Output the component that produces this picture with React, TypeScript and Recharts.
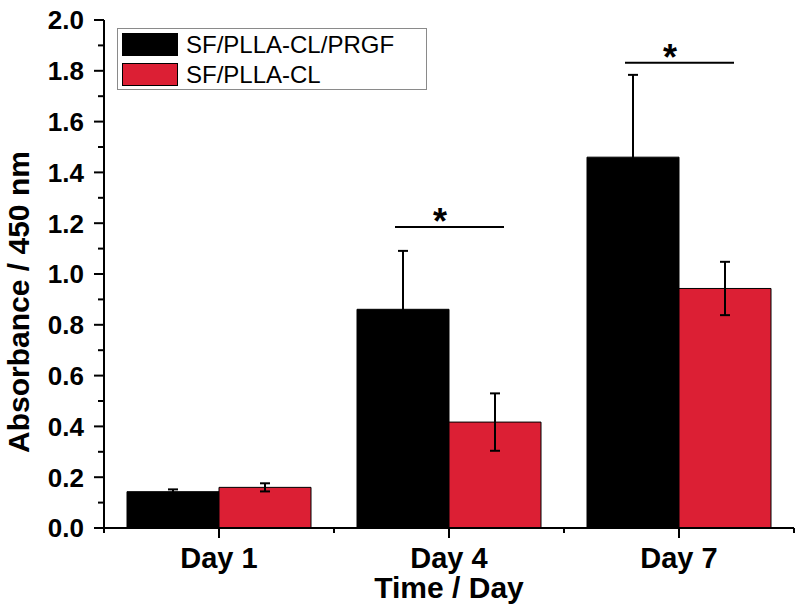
import React from 'react';
import { ComposedChart, Bar, ErrorBar, Scatter, XAxis, YAxis, Legend, Label } from 'recharts';

// values
const days = ['Day 1', 'Day 4', 'Day 7'];
const prgfMean = [0.143, 0.861, 1.46];
const prgfErr = [0.009, 0.23, 0.324];
const clMean = [0.16, 0.417, 0.943];
const clErr = [0.016, 0.113, 0.105];
// height of the significance bracket (null = no bracket)
const sigLevel = [null, 1.185, 1.832];

const yTicks = [0, 0.1, 0.2, 0.3, 0.4, 0.5, 0.6, 0.7, 0.8, 0.9, 1.0, 1.1, 1.2, 1.3, 1.4, 1.5, 1.6, 1.7, 1.8, 1.9, 2.0];

const seriesNames = ['SF/PLLA-CL/PRGF', 'SF/PLLA-CL'];
const RED = '#dc1f34';
const FONT = '"Liberation Sans", Arial, sans-serif';

const data = days.map((d, i) => ({
  day: d,
  prgf: prgfMean[i],
  prgfErr: prgfErr[i],
  cl: clMean[i],
  clErr: clErr[i],
  sig: sigLevel[i],
}));

const YTick = (props: any) => {
  const { x, y, payload } = props;
  const v = payload.value;
  const major = Math.round(v * 10) % 2 === 0;
  const axisX = x + 20;
  return (
    <g>
      <line x1={axisX} x2={axisX - (major ? 10 : 6)} y1={y} y2={y} stroke="#000" strokeWidth={2} />
      {major && (
        <text x={x} y={y} dy="0.36em" textAnchor="end" fontFamily={FONT} fontWeight="bold" fontSize={26} fill="#000">
          {v.toFixed(1)}
        </text>
      )}
    </g>
  );
};

const XTick = (props: any) => {
  const { x, y, payload } = props;
  const axisY = y - 16;
  const half = payload.offset || 0;
  return (
    <g>
      <line x1={x} x2={x} y1={axisY} y2={axisY + 10} stroke="#000" strokeWidth={2} />
      {half > 0 && (
        <>
          <line x1={x - half} x2={x - half} y1={axisY} y2={axisY + 5} stroke="#000" strokeWidth={2} />
          <line x1={x + half} x2={x + half} y1={axisY} y2={axisY + 5} stroke="#000" strokeWidth={2} />
        </>
      )}
      <text x={x} y={y + 24} textAnchor="middle" fontFamily={FONT} fontWeight="bold" fontSize={29} fill="#000">
        {payload.value}
      </text>
    </g>
  );
};

const SigMark = (props: any) => {
  const { cx, cy, payload } = props;
  if (payload == null || payload.sig == null) return <g />;
  return (
    <g>
      <line x1={cx - 54} x2={cx + 55} y1={cy} y2={cy} stroke="#000" strokeWidth={2} />
      <text x={cx - 9} y={cy + 7} textAnchor="middle" fontFamily={FONT} fontWeight="bold" fontSize={36} fill="#000">
        *
      </text>
    </g>
  );
};

const LegendBox = () => (
  <div
    style={{
      width: 308,
      height: 60,
      border: '1px solid #8a8a8a',
      background: '#fff',
      position: 'relative',
      fontFamily: FONT,
      fontSize: 24,
      color: '#000',
    }}
  >
    {seriesNames.map((name, i) => (
      <div key={name} style={{ position: 'absolute', left: 4, top: 4 + i * 30, height: 23, display: 'flex', alignItems: 'center' }}>
        <div
          style={{
            width: 54,
            height: 21,
            background: i === 0 ? '#000' : RED,
            border: '1px solid #000',
            marginRight: 8,
          }}
        />
        <span style={{ lineHeight: '23px', whiteSpace: 'nowrap' }}>{name}</span>
      </div>
    ))}
  </div>
);

const YTitle = (props: any) => {
  const { viewBox } = props;
  const cy = viewBox.y + viewBox.height / 2 + 28;
  return (
    <text
      transform={`translate(29, ${cy}) rotate(-90)`}
      textAnchor="middle"
      fontFamily={FONT}
      fontWeight="bold"
      fontSize={30}
      fill="#000"
    >
      Absorbance / 450 nm
    </text>
  );
};

const XTitle = (props: any) => {
  const { viewBox } = props;
  const cx = viewBox.x + viewBox.width / 2;
  return (
    <text x={cx} y={598} textAnchor="middle" fontFamily={FONT} fontWeight="bold" fontSize={30} fill="#000">
      Time / Day
    </text>
  );
};

export default function App() {
  return (
    <div style={{ position: 'absolute', left: 0, top: 0, width: 800, height: 616, background: '#fff' }}>
      <ComposedChart
        width={800}
        height={616}
        data={data}
        margin={{ top: 20, right: 6, bottom: 0, left: 0 }}
        barCategoryGap="10%"
        barGap={0}
      >
        <XAxis
          dataKey="day"
          height={88}
          axisLine={{ stroke: '#000', strokeWidth: 2 }}
          tickLine={false}
          tickSize={10}
          tickMargin={6}
          tick={<XTick />}
          interval={0}
        >
          <Label content={<XTitle />} />
        </XAxis>
        <YAxis
          width={104}
          domain={[0, 2]}
          ticks={yTicks}
          interval={0}
          allowDataOverflow
          axisLine={{ stroke: '#000', strokeWidth: 2 }}
          tickLine={false}
          tickSize={10}
          tickMargin={10}
          tick={<YTick />}
        >
          <Label content={<YTitle />} />
        </YAxis>
        <Legend
          layout="vertical"
          align="center"
          verticalAlign="middle"
          content={<LegendBox />}
          wrapperStyle={{ position: 'absolute', left: 117, top: 28, width: 310, height: 62 }}
        />
        <Bar dataKey="prgf" fill="#000" stroke="#000" strokeWidth={1} isAnimationActive={false}>
          <ErrorBar dataKey="prgfErr" direction="y" width={5} stroke="#000" strokeWidth={2} isAnimationActive={false} />
        </Bar>
        <Bar dataKey="cl" fill={RED} stroke="#000" strokeWidth={1} isAnimationActive={false}>
          <ErrorBar dataKey="clErr" direction="y" width={5} stroke="#000" strokeWidth={2} isAnimationActive={false} />
        </Bar>
        <Scatter dataKey="sig" shape={<SigMark />} isAnimationActive={false} legendType="none" />
      </ComposedChart>
    </div>
  );
}
